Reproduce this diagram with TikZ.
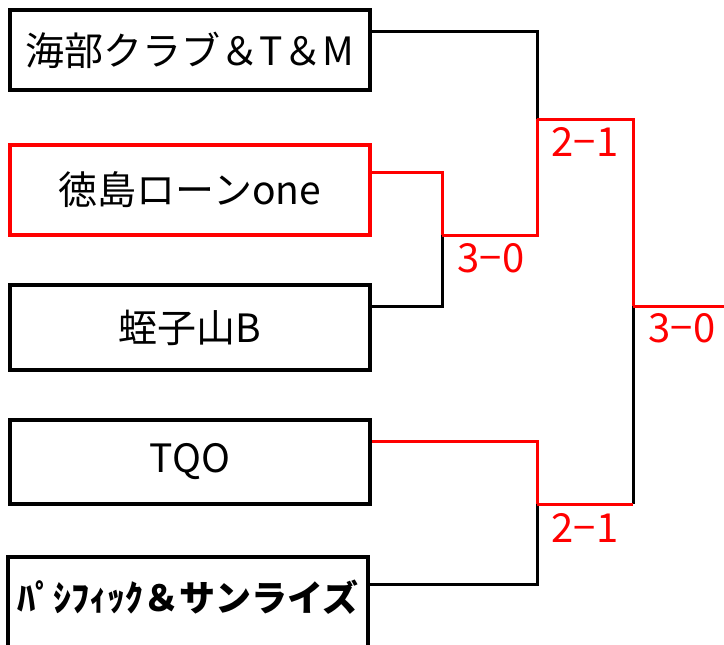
\documentclass[tikz,border=0pt]{standalone}
\usepackage{fontspec}
\setmainfont{Noto Sans CJK JP}
\usetikzlibrary{shapes,arrows,positioning}

\tikzset{
  team/.style={draw, line width=4.5pt, minimum width=360pt, inner sep=0pt,
    font=\fontsize{39}{42}\selectfont},
  win/.style={red, line width=3pt},
  lose/.style={black, line width=3pt},
  score/.style={red, inner sep=0pt, font=\fontsize{40}{44}\selectfont}
}

\begin{document}
\begin{tikzpicture}[x=1pt,y=-1pt]
\useasboundingbox (0,0) rectangle (724,645);
\clip (0,0) rectangle (724,645);
% Draw the team boxes
\node[team, minimum height=80pt] (b1) at (190,50) {海部クラブ＆T＆M};
\node[team, draw=red, minimum height=90pt] (b2) at (190,190) {徳島ローンone};
\node[team, minimum height=85pt] (b3) at (190,327.5) {蛭子山B};
\node[team, minimum height=84pt] (b4) at (190,462) {TQO};
\node[team, minimum height=100pt, text depth=23pt,
  font=\fontsize{36}{40}\selectfont\bfseries] (b5) at (188,607) {ﾊﾟｼﾌｨｯｸ＆サンライズ};
% Draw the joints of the bracket
\coordinate (j1) at (442,235);
\coordinate (j2) at (537,119);
\coordinate (j3) at (537,504);
\coordinate (j4) at (633,306);
\coordinate (e) at (724,306);
% Draw the losing lines
\draw[lose] ([yshift=19pt]b1.east) -| (j2);
\draw[lose] ([yshift=21.5pt]b3.east) -| (j1);
\draw[lose] ([yshift=23pt]b5.east) -| (j3);
\draw[lose] (j3 -| j4) -- (j4);
% Draw the winning lines
\draw[win] ([yshift=18pt]b2.east) -| (j1);
\draw[win] (j1) -| (j2);
\draw[win] (j2) -| (j4);
\draw[win] (j4) -- (e);
\draw[win] ([yshift=21pt]b4.east) -| (j3);
\draw[win] (j3) -- (j3 -| j4);
% Draw the scores
\node[score] (s1) at (491,258) {3−0};
\node[score] (s2) at (585,142) {2−1};
\node[score] (s3) at (585,528) {2−1};
\node[score] (s4) at (682,328) {3−0};
\end{tikzpicture}
\end{document}
